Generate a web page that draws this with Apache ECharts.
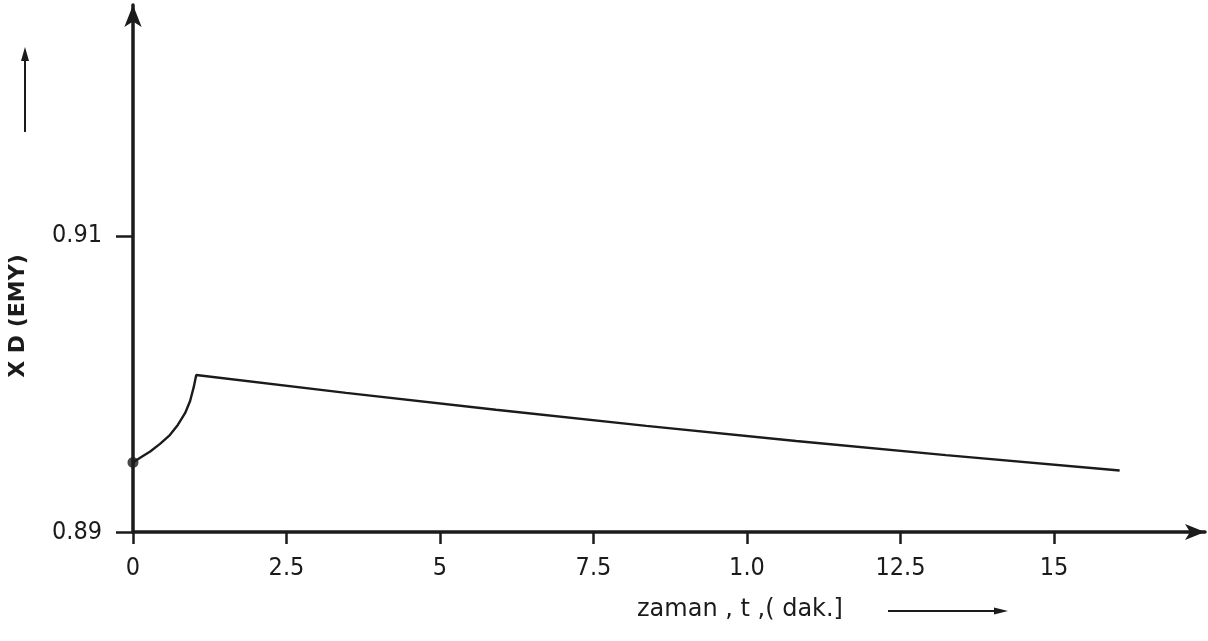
<!DOCTYPE html>
<html>
<head>
<meta charset="utf-8">
<style>
  html, body { margin: 0; padding: 0; background: #ffffff; }
  #chart { width: 1208px; height: 641px; }
</style>
<script src="https://cdn.jsdelivr.net/npm/echarts@6/dist/echarts.min.js"></script>
</head>
<body>
<div id="chart"></div>
<script>
// Time (minutes) and X_D (EMY) along the curve: a rise during the first minute, then a slow decline.
const timeMin = [0, 0.11, 0.28, 0.44, 0.60, 0.73, 0.85, 0.93, 0.99, 1.03,
                 3.47, 5.91, 8.36, 10.80, 13.24, 16.07];
const xdValues = [0.8947, 0.8950, 0.89544, 0.89595, 0.89655, 0.89723, 0.89804, 0.89885, 0.89980, 0.90061,
                  0.89940, 0.89826, 0.89717, 0.89615, 0.89519, 0.89415];

// Axis ticks and their printed labels
const xTickValues = [0, 2.5, 5, 7.5, 10, 12.5, 15];
const xTickLabels = ['0', '2.5', '5', '7.5', '1.0', '12.5', '15'];
const yTickValues = [0.89, 0.91];
const yTickLabels = ['0.89', '0.91'];

const xAxisTitle = 'zaman , t ,( dak.]';
const yAxisTitle = 'X D (EMY)';

const INK = '#1b1b1b';
const NARROW = "'DejaVu Sans Condensed', 'Liberation Sans Narrow', 'Liberation Sans', sans-serif";

const curve = timeMin.map((t, i) => [t, xdValues[i]]);

function labelFor(values, labels) {
  return function (v) {
    for (let i = 0; i < values.length; i++) {
      if (Math.abs(values[i] - v) < 1e-9) return labels[i];
    }
    return '';
  };
}

const chart = echarts.init(document.getElementById('chart'), null, { renderer: 'canvas' });

chart.setOption({
  backgroundColor: '#ffffff',
  animation: false,
  grid: { left: 133, right: 3, top: 5, bottom: 109, outerBoundsMode: 'none' },
  xAxis: {
    type: 'value',
    min: 0,
    max: 17.46,
    interval: 2.5,
    splitLine: { show: false },
    axisLine: {
      show: true,
      onZero: false,
      symbol: ['none', 'arrow'],
      symbolSize: [12, 20],
      lineStyle: { color: INK, width: 3.5 }
    },
    axisTick: {
      show: true,
      inside: false,
      length: 12,
      customValues: xTickValues,
      lineStyle: { color: INK, width: 2.5 }
    },
    axisLabel: {
      show: true,
      margin: 24,
      customValues: xTickValues,
      formatter: labelFor(xTickValues, xTickLabels),
      color: INK,
      fontFamily: NARROW,
      fontSize: 25
    }
  },
  yAxis: {
    type: 'value',
    min: 0.89,
    max: 0.9256,
    interval: 0.005,
    splitLine: { show: false },
    axisLine: {
      show: true,
      onZero: false,
      symbol: ['none', 'arrow'],
      symbolSize: [13, 22],
      lineStyle: { color: INK, width: 3.5 }
    },
    axisTick: {
      show: true,
      inside: false,
      length: 17,
      customValues: yTickValues,
      lineStyle: { color: INK, width: 2.5 }
    },
    axisLabel: {
      show: true,
      margin: 31,
      customValues: yTickValues,
      formatter: labelFor(yTickValues, yTickLabels),
      color: INK,
      fontFamily: NARROW,
      fontSize: 25
    }
  },
  series: [
    {
      type: 'line',
      data: curve,
      symbol: 'none',
      smooth: false,
      lineStyle: { color: INK, width: 2.4 },
      z: 3
    },
    {
      type: 'scatter',
      data: [curve[0]],
      symbol: 'circle',
      symbolSize: 11,
      itemStyle: { color: INK },
      z: 4
    }
  ],
  graphic: [
    // vertical axis title, reading upward
    {
      type: 'text',
      x: 18,
      y: 316,
      rotation: Math.PI / 2,
      style: {
        text: yAxisTitle,
        fill: INK,
        font: "bold 22px 'DejaVu Sans', sans-serif",
        align: 'center',
        verticalAlign: 'middle'
      }
    },
    // upward arrow above the vertical title
    {
      type: 'line',
      shape: { x1: 25, y1: 132, x2: 25, y2: 58 },
      style: { stroke: INK, lineWidth: 2 }
    },
    {
      type: 'polygon',
      shape: { points: [[25, 47], [21, 61], [29, 61]] },
      style: { fill: INK }
    },
    // horizontal axis title
    {
      type: 'text',
      x: 637,
      y: 610,
      style: {
        text: xAxisTitle,
        fill: INK,
        font: "24px 'DejaVu Sans', sans-serif",
        align: 'left',
        verticalAlign: 'middle'
      }
    },
    // arrow pointing right after the horizontal title
    {
      type: 'line',
      shape: { x1: 888, y1: 611, x2: 996, y2: 611 },
      style: { stroke: INK, lineWidth: 2 }
    },
    {
      type: 'polygon',
      shape: { points: [[1008, 611], [994, 607.5], [994, 614.5]] },
      style: { fill: INK }
    }
  ]
});
</script>
</body>
</html>
